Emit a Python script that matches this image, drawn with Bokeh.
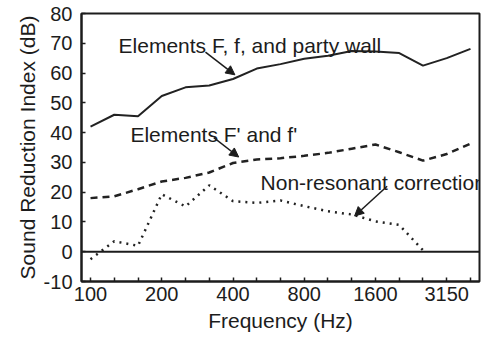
from bokeh.plotting import figure
from bokeh.models import Range1d, FixedTicker, Span, Label, Arrow, NormalHead
from bokeh.embed import file_html
from bokeh.resources import INLINE

# 1/3-octave band centre frequencies (Hz)
bands = ["100", "125", "160", "200", "250", "315", "400", "500", "630", "800",
         "1000", "1250", "1600", "2000", "2500", "3150", "4000"]
labelled_bands = ["100", "200", "400", "800", "1600", "3150"]
y_ticks = [-10, 0, 10, 20, 30, 40, 50, 60, 70, 80]

# Sound reduction index (dB)
elements_F_f_party = [42, 46, 45.5, 52.3, 55.2, 55.8, 58, 61.5, 63, 64.8,
                      65.8, 67.4, 67.2, 66.7, 62.5, 65, 68.1]
elements_Fp_fp = [18, 18.6, 21, 23.6, 24.8, 26.6, 29.8, 31, 31.4, 32.2,
                  33.2, 34.6, 36, 33.4, 30.6, 32.8, 36.3]
nonresonant_bands = bands[:15]
nonresonant_corr = [-2.5, 3.5, 2, 19.3, 15.2, 22.3, 17, 16.4, 17.2, 15.3,
                    13.6, 12.5, 10.2, 9, 0.5]

FONT = "Liberation Sans"
INK = "#1c1c1c"

idx = {b: i for i, b in enumerate(bands)}
x_all = [idx[b] for b in bands]
x_nr = [idx[b] for b in nonresonant_bands]

p = figure(width=486, height=337, output_backend="svg", toolbar_location=None,
           x_range=Range1d(-0.38, 16.38), y_range=Range1d(-10, 80),
           min_border_left=81, min_border_right=7, min_border_top=13,
           min_border_bottom=56)

p.xgrid.visible = False
p.ygrid.visible = False
p.outline_line_color = INK
p.outline_line_width = 2
p.background_fill_color = "white"
p.border_fill_color = "white"

# x axis
p.xaxis.ticker = FixedTicker(ticks=x_all)
p.xaxis.major_label_overrides = {i: (b if b in labelled_bands else "") for i, b in enumerate(bands)}
p.xaxis.axis_label = "Frequency (Hz)"
# y axis
p.yaxis.ticker = FixedTicker(ticks=y_ticks)
p.yaxis.major_label_overrides = {t: str(t) for t in y_ticks}
p.yaxis.axis_label = "Sound Reduction Index (dB)"

for ax in (p.xaxis[0], p.yaxis[0]):
    ax.axis_line_color = INK
    ax.axis_line_width = 2
    ax.major_tick_in = 4
    ax.major_tick_out = 0
    ax.minor_tick_in = 0
    ax.minor_tick_out = 0
    ax.major_tick_line_color = INK
    ax.major_tick_line_width = 1.5
    ax.major_label_text_font = FONT
    ax.major_label_text_font_size = "20px"
    ax.major_label_text_color = INK
    ax.axis_label_text_font = FONT
    ax.axis_label_text_font_size = "21px"
    ax.axis_label_text_font_style = "normal"
    ax.axis_label_text_color = INK

p.xaxis.major_label_standoff = 5
p.xaxis.axis_label_standoff = 5
p.yaxis.major_label_standoff = 9
p.yaxis.axis_label_standoff = 2

# zero line
p.add_layout(Span(location=0, dimension="width", line_color=INK, line_width=2))

# series
p.line(x_all, elements_F_f_party, line_color="#222222", line_width=2)
p.line(x_all, elements_Fp_fp, line_color="#222222", line_width=2.5, line_dash="7 5")
p.line(x_nr, nonresonant_corr, line_color="#222222", line_width=2.5, line_dash="2 5")

# annotations
def note(text, x, y):
    p.add_layout(Label(x=x, y=y, text=text, text_font=FONT, text_font_size="21px",
                       text_color=INK, text_baseline="alphabetic", text_align="left"))

def pointer(x0, y0, x1, y1):
    p.add_layout(Arrow(end=NormalHead(size=9, fill_color=INK, line_color=INK, line_width=1),
                       x_start=x0, y_start=y0, x_end=x1, y_end=y1,
                       line_color=INK, line_width=1.5))

note("Elements F, f, and party wall", 1.18, 69.2)
pointer(4.84, 67.0, 6.08, 59.4)
note("Elements F' and f'", 1.68, 39.4)
pointer(5.19, 38.3, 6.24, 31.8)
note("Non-resonant correction", 7.16, 23.1)
pointer(12.49, 22.0, 11.12, 12.0)

open("out.html", "w").write(file_html(p, INLINE))
